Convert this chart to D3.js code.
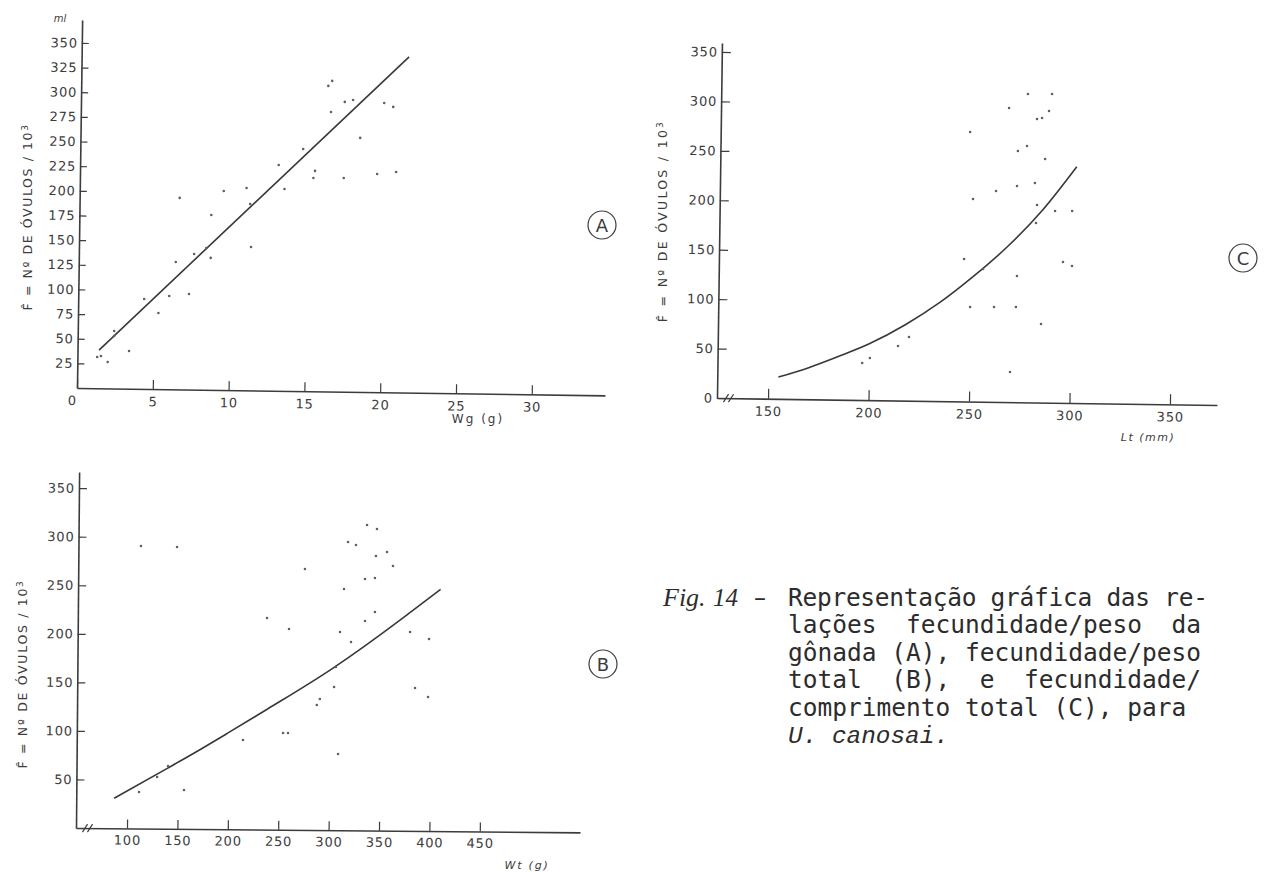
<!DOCTYPE html>
<html>
<head>
<meta charset="utf-8">
<script src="https://cdn.jsdelivr.net/npm/d3@7"></script>
<style>
  body { margin: 0; background: #fff; }
  svg text { font-family: "DejaVu Sans", sans-serif; fill: #3c3c3c; }
  .caption { font-family: "DejaVu Sans Mono", monospace; font-size: 24.5px; fill: #2c2c2c; white-space: pre; }
</style>
</head>
<body>
<svg id="fig" width="1269" height="872"></svg>
<script>
// ---- Panel A: fecundity vs gonad weight Wg (g) ----
const pointsA = [
  [1.3,31.7],[1.55,32.8],[2.0,26.8],[2.4,58.3],[2.4,53.3],[3.4,38.3],[4.35,91.2],[5.3,77.2],
  [6.0,94.6],[6.4,129.2],[7.3,96.9],[7.6,137.6],[8.4,143.8],[8.7,177.3],[8.7,133.8],[6.6,194.2],
  [9.5,201.9],[11.0,205.2],[11.25,189.1],[11.35,145.5],[13.1,229],[13.5,204.8],[14.7,245.6],
  [15.4,216.3],[15.5,223.5],[16.3,309.9],[16.55,315],[16.5,283.5],[17.4,293.9],[17.95,296],
  [18.45,257.6],[20.0,293.4],[20.6,289.5],[17.4,216.7],[19.6,221.3],[20.85,223.6]
];
const fitA = [[1.42,38.8],[21.6,340.4]];
const ticksAx = [0,5,10,15,20,25,30];
const ticksAy = [25,50,75,100,125,150,175,200,225,250,275,300,325,350];

// ---- Panel B: fecundity vs total weight Wt (g) ----
const pointsB = [
  [111.4,291],[147.2,290.3],[274.3,268.8],[237.1,218],[259,206.9],[111.6,37.6],[129.4,53.2],
  [140.2,64.7],[156.2,40.1],[214.3,92.1],[254,99.7],[258.9,99.7],[316.8,297],[324.7,294],
  [335.5,314.7],[345.4,310.6],[344.6,282.8],[355.6,287],[361.6,272.7],[333.9,259],[343.8,260.1],
  [313.2,248.5],[344.1,225.1],[334.3,215.8],[309.6,204.2],[320.6,194],[379.1,204.8],[398,197.8],
  [305.8,168.2],[304.2,147.5],[290.2,135],[287.2,128.8],[384.5,147.2],[397.5,138.1],[308.7,78.6]
];
const fitB = [[87,31],[139,62],[172,82],[199,99],[238,124],[303,167],[369,217],[379,225],[409,249]];
const ticksBx = [100,150,200,250,300,350,400,450];
const ticksBy = [50,100,150,200,250,300,350];

// ---- Panel C: fecundity vs total length Lt (mm) ----
const pointsC = [
  [277.2,311.8],[289.2,312.1],[267.9,297.4],[287.8,294.9],[281.9,286.6],[284.4,287.7],[248.7,272.5],
  [272.6,254],[277.1,259.2],[286.2,246.3],[272.4,218.6],[281.3,221.9],[262,213.3],[250.6,204.8],
  [282.5,199.7],[291.5,193.9],[300,194.1],[282.1,181.5],[246.6,144.1],[256.1,134.2],[273,127.6],
  [295.8,142.4],[300.3,138.5],[249.9,95.6],[261.8,96],[272.7,96.3],[285.3,79.4],[270.2,30.4],
  [196.6,37.4],[200.4,42.6],[214.3,55.1],[219.7,64.4]
];
const fitC = [[155,22],[170,32],[185,44],[200,57],[218,77],[235,100],[251,126],[268,157],[285,194],[302,239]];
const ticksCx = [150,200,250,300,350];
const ticksCy = [0,50,100,150,200,250,300,350];

const captionLines = [
  "Representação gráfica das re-",
  "lações  fecundidade/peso  da",
  "gônada (A), fecundidade/peso",
  "total  (B),  e  fecundidade/",
  "comprimento total (C), para"
];

const svg = d3.select("#fig");
const ink = "#3c3c3c";

function drawPanel(c) {
  const g = svg.append("g")
    .attr("transform", `translate(${c.ox},${c.oy}) rotate(${c.tilt})`);
  const x = d3.scaleLinear().domain(c.xDomain).range([0, c.w]);
  const y = d3.scaleLinear().domain(c.yDomain).range([0, -c.h]);

  const xa = g.append("g")
    .call(d3.axisBottom(x).tickValues(c.xTicks).tickSizeInner(-c.xTickLen)
      .tickSizeOuter(0).tickPadding(c.xPad).tickFormat(d3.format("d")));
  const ya = g.append("g")
    .call(d3.axisLeft(y).tickValues(c.yTicks).tickSizeInner(-c.yTickLen)
      .tickSizeOuter(0).tickPadding(4).tickFormat(d3.format("d")));

  [xa, ya].forEach(a => {
    a.attr("font-family", null).attr("font-size", null);
    a.select(".domain").attr("stroke", ink).attr("stroke-width", 1.6);
    a.selectAll(".tick line").attr("stroke", ink).attr("stroke-width", 1.2);
    a.selectAll(".tick text").attr("fill", ink)
      .style("font-size", "13px").style("letter-spacing", "0.8px");
  });
  if (c.zeroShift) {
    xa.selectAll(".tick").filter(d => d === 0).select("text").attr("x", c.zeroShift);
  }
  if (c.breakMarks) {
    [9, 14].forEach(o => {
      g.append("line").attr("x1", o - 2.5).attr("y1", 4).attr("x2", o + 2.5).attr("y2", -4)
        .attr("stroke", ink).attr("stroke-width", 1.2);
    });
  }

  g.append("path").datum(c.fit)
    .attr("fill", "none").attr("stroke", "#383838").attr("stroke-width", 1.6)
    .attr("d", d3.line().x(d => x(d[0])).y(d => y(d[1])).curve(d3.curveMonotoneX));

  g.selectAll("circle.pt").data(c.points).join("circle")
    .attr("class", "pt")
    .attr("cx", d => x(d[0])).attr("cy", d => y(d[1]))
    .attr("r", 1.3).attr("fill", "#606060");
}

drawPanel({ ox: 77, oy: 388, tilt: 0.8, w: 528, h: 368,
  xDomain: [0, 34.83], yDomain: [0, 373.2], xTicks: ticksAx, yTicks: ticksAy,
  xTickLen: 9, yTickLen: 7, xPad: 8, zeroShift: -5, points: pointsA, fit: fitA });

drawPanel({ ox: 76, oy: 828, tilt: 0.5, w: 504, h: 356,
  xDomain: [49.4, 549.4], yDomain: [0, 366.6], xTicks: ticksBx, yTicks: ticksBy,
  xTickLen: 9, yTickLen: 8, xPad: 7, breakMarks: true, points: pointsB, fit: fitB });

drawPanel({ ox: 717, oy: 398, tilt: 0.8, w: 500, h: 355,
  xDomain: [124.6, 373.4], yDomain: [0, 359], xTicks: ticksCx, yTicks: ticksCy,
  xTickLen: 10, yTickLen: 9, xPad: 8, breakMarks: true, points: pointsC, fit: fitC });

// vertical axis titles
function yTitle(bx, cy, spacing) {
  const t = svg.append("text")
    .attr("transform", `translate(${bx},${cy}) rotate(-90)`)
    .attr("text-anchor", "middle")
    .style("font-size", "12.5px").style("letter-spacing", spacing + "px");
  t.append("tspan").text("F\u0302 = Nº DE ÓVULOS / 10");
  t.append("tspan").attr("dy", "-0.5em").style("font-size", "9px").text("3");
}
yTitle(32, 217, 1.6);
yTitle(667, 221, 2.3);
yTitle(27, 674, 1.7);

// horizontal axis titles and unit mark
svg.append("text").attr("x", 478).attr("y", 423).attr("text-anchor", "middle")
  .style("font-size", "12px").style("letter-spacing", "2px").text("Wg (g)");
svg.append("text").attr("x", 1148).attr("y", 441).attr("text-anchor", "middle")
  .style("font-size", "11px").style("font-style", "italic").style("letter-spacing", "1.5px").text("Lt (mm)");
svg.append("text").attr("x", 527).attr("y", 869).attr("text-anchor", "middle")
  .style("font-size", "11px").style("font-style", "italic").style("letter-spacing", "1.8px").text("Wt (g)");
svg.append("text").attr("x", 60).attr("y", 22).attr("text-anchor", "middle")
  .style("font-size", "10px").style("font-style", "italic").text("ml");

// circled panel letters
[["A", 602, 225], ["B", 603, 664], ["C", 1243, 258]].forEach(([l, cx, cy]) => {
  svg.append("circle").attr("cx", cx).attr("cy", cy).attr("r", 14)
    .attr("fill", "none").attr("stroke", ink).attr("stroke-width", 1.2);
  svg.append("text").attr("x", cx).attr("y", cy + 6.5).attr("text-anchor", "middle")
    .style("font-size", "18px").text(l);
});

// figure caption
svg.append("text").attr("x", 663).attr("y", 606)
  .style("font-family", "'Liberation Serif', serif").style("font-style", "italic")
  .style("font-size", "26px").style("fill", "#2c2c2c").text("Fig.");
svg.append("text").attr("x", 713).attr("y", 606)
  .style("font-family", "'Liberation Serif', serif").style("font-style", "italic")
  .style("font-size", "25px").style("fill", "#2c2c2c").text("14");
svg.append("text").attr("x", 754).attr("y", 606)
  .style("font-size", "24px").style("fill", "#2c2c2c").text("–");

captionLines.forEach((line, i) => {
  const t = svg.append("text").attr("class", "caption")
    .attr("x", 788).attr("y", 606 + i * 27.4).text(line);
  if (i === 0) t.attr("textLength", 420).attr("lengthAdjust", "spacing");
});
svg.append("text").attr("x", 788).attr("y", 606 + 5 * 27.4)
  .style("font-family", "'Liberation Mono', monospace").style("font-style", "italic")
  .style("font-size", "24.4px").style("fill", "#2c2c2c").text("U. canosai.");
</script>
</body>
</html>
